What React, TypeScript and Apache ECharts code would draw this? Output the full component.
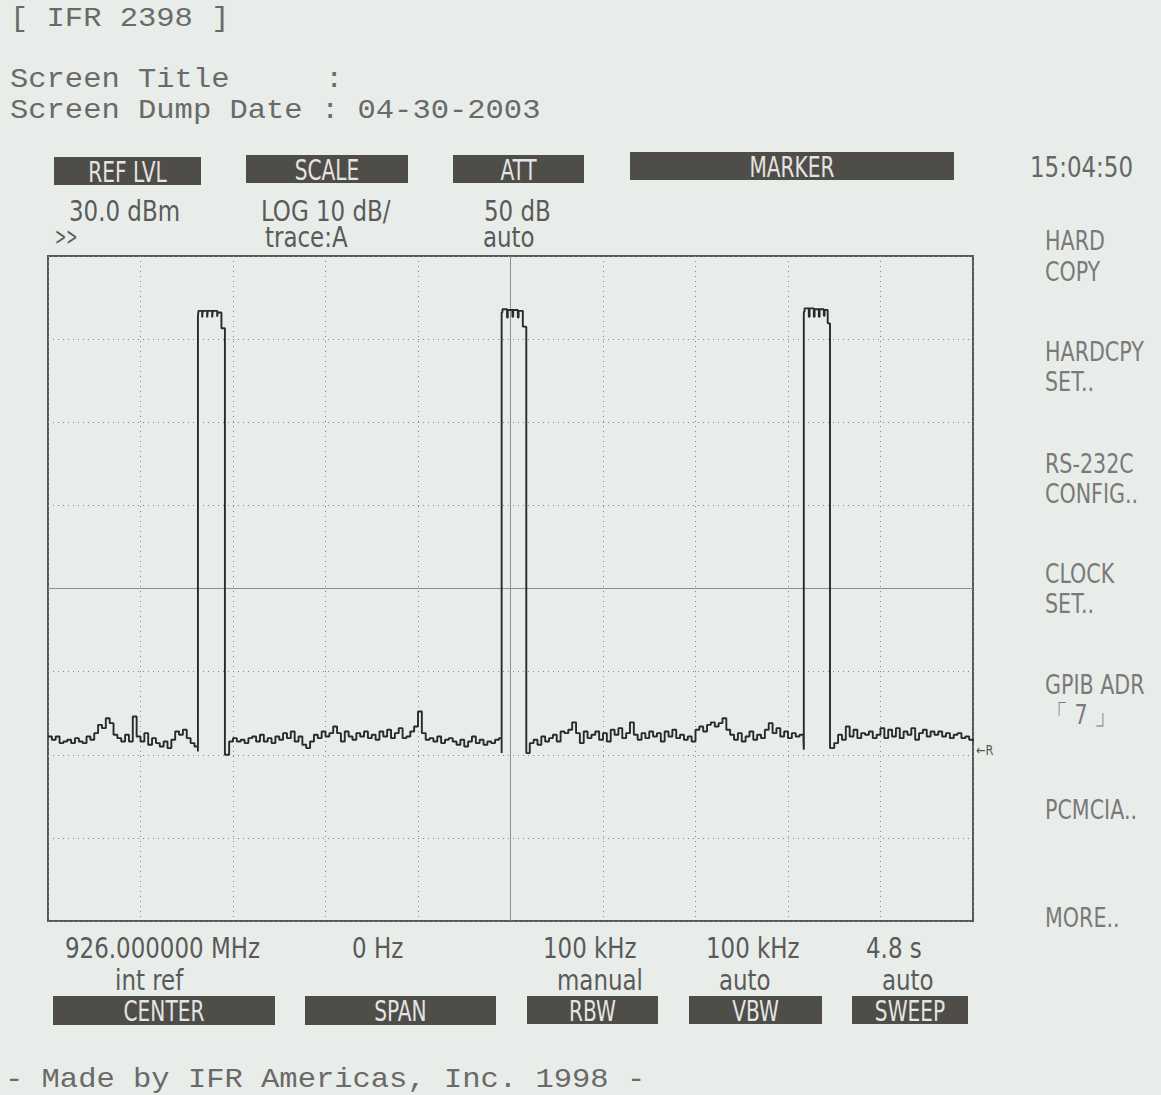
import React, { useEffect, useRef } from "react";
import * as echarts from "echarts";

// ---- instrument settings ----
const SWEEP_TIME = 4.8; // s, zero span
const TIME_DIV = 0.48;
const REF_LEVEL = 30; // dBm
const BOTTOM_LEVEL = -50;
const DB_DIV = 10;
const SAMPLE_STEP = 0.02; // s between noise samples

// ---- noise floor segments (dBm), sampled every SAMPLE_STEP ----
const NOISE_1_START = 0;
const NOISE_1 = [
  -27.8, -28.2, -27.8, -28.6, -28.4, -28.2, -28.6, -28.0, -28.4, -28.6,
  -27.8, -28.2, -27.4, -26.4, -26.8, -25.6, -26.2, -27.6, -28.0, -28.4,
  -27.6, -28.4, -25.4, -27.8, -28.4, -27.4, -28.8, -28.0, -28.6, -29.0,
  -28.4, -29.2, -28.2, -27.2, -27.6, -27.0, -28.0, -28.6, -29.0,
];
const NOISE_2_START = 0.92;
const NOISE_2 = [
  -30.0, -28.4, -28.0, -28.4, -28.2, -28.6, -28.0, -27.8, -28.4, -27.6,
  -28.4, -28.0, -28.6, -27.8, -28.2, -27.4, -28.0, -27.2, -28.4, -27.8,
  -28.8, -29.2, -28.4, -27.6, -28.0, -27.2, -27.8, -27.4, -26.6, -27.4,
  -28.4, -27.2, -27.8, -28.2, -27.4, -27.8, -27.2, -28.0, -27.6, -28.2,
  -27.2, -27.8, -27.0, -28.0, -27.4, -26.8, -28.0, -27.8, -27.2, -26.6,
  -24.8, -27.4, -28.2, -28.0, -28.4, -27.8, -28.6, -28.2, -28.0, -28.4,
  -28.8, -28.2, -29.0, -28.4, -27.8, -28.6, -28.2, -28.8, -28.4, -28.6,
  -28.2, -28.0,
];
const NOISE_3_START = 2.5;
const NOISE_3 = [
  -28.6, -28.2, -28.8, -27.8, -28.4, -28.0, -27.6, -28.4, -27.2, -27.4,
  -27.0, -26.1, -27.4, -28.6, -27.2, -28.0, -27.6, -27.2, -28.2, -27.4,
  -28.4, -27.0, -27.6, -26.8, -28.0, -27.4, -26.1, -27.6, -28.2, -27.4,
  -28.0, -27.2, -27.8, -27.4, -28.4, -27.2, -27.8, -27.0, -28.0, -27.6,
  -28.2, -27.8, -28.4, -27.0, -26.6, -27.2, -26.4, -26.1, -26.6, -26.2,
  -25.6, -27.0, -27.6, -28.2, -27.4, -28.4, -27.8, -27.2, -28.2, -27.6,
  -28.0, -27.0, -26.2, -27.4, -26.8, -27.8, -27.2, -28.0, -27.4, -27.8,
  -27.6, -28.0,
];
const NOISE_4_START = 4.08;
const NOISE_4 = [
  -28.6, -27.6, -28.2, -26.6, -27.8, -27.0, -28.0, -27.4, -27.6, -27.2,
  -28.0, -27.6, -26.8, -28.0, -27.0, -27.8, -26.8, -28.0, -27.2, -27.6,
  -26.8, -28.2, -27.4, -27.0, -27.8, -27.2, -27.6, -27.2, -27.8, -27.4,
  -28.0, -27.6, -27.4, -28.0, -27.8, -28.2, -28.4,
];

// ---- bursts: [time s, level dBm] ----
const BURST_1 = [
  [0.778, -29.6], [0.778, 22.8], [0.781, 23.4], [0.8, 22.6], [0.803, 23.4],
  [0.826, 22.6], [0.829, 23.4], [0.852, 22.6], [0.855, 23.4], [0.878, 22.7],
  [0.881, 23.2], [0.9, 21.3], [0.918, 21.3], [0.918, -30.0],
];
const BURST_2 = [
  [2.354, -29.8], [2.354, 23.2], [2.358, 23.6], [2.382, 22.6], [2.386, 23.5],
  [2.41, 22.7], [2.414, 23.5], [2.438, 22.6], [2.442, 23.4], [2.464, 21.5],
  [2.482, 21.5], [2.482, -29.8],
];
const BURST_3 = [
  [3.922, -29.4], [3.922, 23.3], [3.926, 23.7], [3.948, 22.7], [3.952, 23.7],
  [3.974, 22.7], [3.978, 23.6], [4.0, 22.7], [4.004, 23.6], [4.026, 22.8],
  [4.03, 23.5], [4.046, 21.9], [4.058, 21.9], [4.058, -29.2],
];

// ---- texts ----
const HEADER_LINES = ["[ IFR 2398 ]", "Screen Title", "Screen Dump Date : 04-30-2003"];
const FOOTER_TEXT = "- Made by IFR Americas, Inc. 1998 -";
const TOP_BOXES = ["REF LVL", "SCALE", "ATT", "MARKER"];
const BOTTOM_BOXES = ["CENTER", "SPAN", "RBW", "VBW", "SWEEP"];
const TOP_VALUES = [
  ["30.0 dBm", ">>"],
  ["LOG 10 dB/", "trace:A"],
  ["50 dB", "auto"],
];
const BOTTOM_VALUES = [
  ["926.000000 MHz", "int ref"],
  ["0 Hz", ""],
  ["100 kHz", "manual"],
  ["100 kHz", "auto"],
  ["4.8 s", "auto"],
];
const CLOCK_TEXT = "15:04:50";
const MENU_ITEMS = [
  ["HARD", "COPY"],
  ["HARDCPY", "SET.."],
  ["RS-232C", "CONFIG.."],
  ["CLOCK", "SET.."],
  ["GPIB ADR", "\u300c 7 \u300d"],
  ["PCMCIA.."],
  ["MORE.."],
];
const TRACE_MARK = "\u2190R";

function noisePoints(start: number, values: number[]) {
  return values.map((v, i) => [+(start + i * SAMPLE_STEP).toFixed(3), v]);
}

const TRACE = [
  ...noisePoints(NOISE_1_START, NOISE_1),
  ...BURST_1,
  ...noisePoints(NOISE_2_START, NOISE_2),
  ...BURST_2,
  ...noisePoints(NOISE_3_START, NOISE_3),
  ...BURST_3,
  ...noisePoints(NOISE_4_START, NOISE_4),
];

const MONO = "'Courier New', 'Liberation Mono', monospace";
const COND = "'DejaVu Sans Condensed', 'Liberation Sans Narrow', 'DejaVu Sans', sans-serif";
const BG = "#e9ede9";

function txt(text: string, x: number, y: number, opts: any = {}) {
  return {
    type: "text",
    x,
    y,
    scaleX: opts.scaleX ?? 1,
    z: 10,
    silent: true,
    style: {
      text,
      fontSize: opts.fontSize ?? 29,
      fontFamily: opts.fontFamily ?? COND,
      fill: opts.fill ?? "#5a5a5a",
      align: opts.align ?? "left",
      verticalAlign: "middle",
    },
  };
}

function box(label: string, x: number, y: number, w: number, h: number) {
  return [
    {
      type: "rect",
      z: 9,
      silent: true,
      shape: { x, y, width: w, height: h },
      style: { fill: "#4f4d48" },
    },
    txt(label, x + w / 2, y + h / 2 + 1, {
      align: "center",
      fill: "#e4e4e4",
      fontSize: 28,
      scaleX: 0.8,
    }),
  ];
}

export default function App() {
  const ref = useRef<HTMLDivElement>(null);

  useEffect(() => {
    document.body.style.margin = "0";
    if (!ref.current) return;
    const chart = echarts.init(ref.current, null, { renderer: "svg" });

    const topBoxGeom = [
      [54, 157, 147, 28],
      [246, 155, 162, 28],
      [453, 155, 131, 28],
      [630, 152, 324, 28],
    ];
    const bottomBoxGeom = [
      [53, 996, 222, 29],
      [305, 996, 191, 29],
      [527, 996, 131, 28],
      [689, 996, 133, 28],
      [852, 996, 116, 28],
    ];
    const topValX = [[69, 55], [261, 265], [484, 483]];
    const bottomValX = [[65, 115], [352, 0], [543, 557], [706, 719], [866, 882]];
    const menuY = [[241, 272], [352, 382], [464, 494], [574, 604], [685, 715], [810], [918]];

    const mono = { fontFamily: MONO, fontSize: 28.5, fill: "#6a6a6a", scaleX: 1.07 };
    const graphics: any[] = [];
    // header
    graphics.push(txt(HEADER_LINES[0], 10, 18, mono));
    graphics.push(txt(HEADER_LINES[1], 10, 79, mono));
    graphics.push(txt(":", 325, 79, mono));
    graphics.push(txt(HEADER_LINES[2], 10, 110, mono));
    graphics.push(txt(FOOTER_TEXT, 5, 1079, mono));

    TOP_BOXES.forEach((b, i) => {
      const [x, y, w, h] = topBoxGeom[i];
      graphics.push(...box(b, x, y, w, h));
    });
    BOTTOM_BOXES.forEach((b, i) => {
      const [x, y, w, h] = bottomBoxGeom[i];
      graphics.push(...box(b, x, y, w, h));
    });
    TOP_VALUES.forEach((pair, i) => {
      graphics.push(txt(pair[0], topValX[i][0], 211, { scaleX: 0.88 }));
      graphics.push(
        txt(pair[1], topValX[i][1], 237, { scaleX: i === 0 ? 0.62 : 0.88, fontSize: i === 0 ? 24 : 29 })
      );
    });
    BOTTOM_VALUES.forEach((pair, i) => {
      graphics.push(txt(pair[0], bottomValX[i][0], 948, { scaleX: 0.88 }));
      if (pair[1]) graphics.push(txt(pair[1], bottomValX[i][1], 980, { scaleX: 0.88 }));
    });
    graphics.push(txt(CLOCK_TEXT, 1030, 167, { scaleX: 0.88, fill: "#666" }));
    MENU_ITEMS.forEach((lines, i) => {
      lines.forEach((l, j) => {
        graphics.push(txt(l, 1045, menuY[i][j], { scaleX: 0.85, fontSize: 27, fill: "#7a7a7a" }));
      });
    });
    graphics.push(txt(TRACE_MARK, 976, 750, { fontSize: 14, fill: "#555", scaleX: 0.9 }));

    const gridLine = { color: "#858585", width: 1, type: [1, 4] as any };

    chart.setOption({
      animation: false,
      backgroundColor: BG,
      grid: {
        left: 48,
        top: 256,
        width: 925,
        height: 665,
        show: true,
        borderColor: "#575757",
        borderWidth: 2,
        backgroundColor: "transparent",
      },
      xAxis: {
        type: "value",
        min: 0,
        max: SWEEP_TIME,
        interval: TIME_DIV,
        axisLine: { show: false },
        axisTick: { show: false },
        axisLabel: { show: false },
        splitLine: { show: true, lineStyle: gridLine },
      },
      yAxis: {
        type: "value",
        min: BOTTOM_LEVEL,
        max: REF_LEVEL,
        interval: DB_DIV,
        axisLine: { show: false },
        axisTick: { show: false },
        axisLabel: { show: false },
        splitLine: { show: true, lineStyle: gridLine },
      },
      series: [
        {
          type: "line",
          step: "end",
          data: TRACE,
          showSymbol: false,
          symbol: "none",
          lineStyle: { color: "#2a2a2a", width: 1.9 },
          z: 5,
          markLine: {
            silent: true,
            symbol: ["none", "none"],
            label: { show: false },
            lineStyle: { color: "#8f8f8f", width: 1, type: "solid" },
            data: [{ xAxis: SWEEP_TIME / 2 }, { yAxis: (REF_LEVEL + BOTTOM_LEVEL) / 2 }],
          },
        },
      ],
      graphic: graphics,
    });

    return () => chart.dispose();
  }, []);

  return (
    <div
      ref={ref}
      style={{ position: "absolute", left: 0, top: 0, width: 1161, height: 1095, background: BG }}
    />
  );
}
